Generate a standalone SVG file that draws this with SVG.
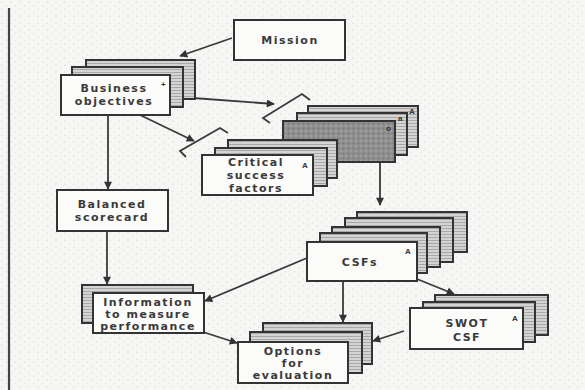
<svg xmlns="http://www.w3.org/2000/svg" width="585" height="390" viewBox="0 0 585 390">
<defs>
<pattern id="dots" width="9" height="7" patternUnits="userSpaceOnUse">
<rect width="9" height="7" fill="#f6f6f4"/>
<circle cx="2" cy="2" r="0.6" fill="#c4c4c4"/>
<circle cx="6.5" cy="5.5" r="0.5" fill="#d2d2d2"/>
</pattern>
<pattern id="hatch" width="4" height="3" patternUnits="userSpaceOnUse">
<rect width="4" height="3" fill="#d4d4d4"/>
<rect width="4" height="1" fill="#a8a8a8"/>
</pattern>
<pattern id="dark" width="5" height="5" patternUnits="userSpaceOnUse">
<rect width="5" height="5" fill="#8e8e8e"/>
<circle cx="1" cy="1" r="0.8" fill="#b8b8b8"/>
<circle cx="3.5" cy="3.5" r="0.7" fill="#6e6e6e"/>
</pattern>
<marker id="ah" viewBox="0 0 10 10" refX="9" refY="5" markerWidth="9" markerHeight="8" markerUnits="userSpaceOnUse" orient="auto">
<path d="M0,0 L10,5 L0,10 z" fill="#333"/>
</marker>
<style>
.f{fill:#fbfbfa;stroke:#333;stroke-width:2}
.b{fill:url(#hatch);stroke:#333;stroke-width:2}
.d{fill:url(#dark);stroke:#333;stroke-width:2}
.t{font-family:"DejaVu Sans","Liberation Sans",sans-serif;font-weight:bold;font-size:11px;letter-spacing:1.5px;fill:#3a3a3a;text-anchor:middle}
.m{font-family:"Liberation Sans",sans-serif;font-weight:bold;font-size:8px;fill:#333}
.c{fill:none;stroke:#3a3a3a;stroke-width:1.8}
</style>
</defs>
<rect width="585" height="390" fill="url(#dots)"/>
<line x1="9" y1="8" x2="9" y2="390" stroke="#444" stroke-width="2.2"/>

<g id="connectors">
<line class="c" x1="232" y1="38" x2="180" y2="56" marker-end="url(#ah)"/>
<line class="c" x1="193" y1="98" x2="274" y2="104" marker-end="url(#ah)"/>
<line class="c" x1="140" y1="115" x2="194" y2="141" marker-end="url(#ah)"/>
<polyline class="c" points="270,123 263,118 302,94 310,100"/>
<polyline class="c" points="186,157 180,151 220,128 228,133"/>
<line class="c" x1="108" y1="115" x2="108" y2="189" marker-end="url(#ah)"/>
<line class="c" x1="107" y1="231" x2="107" y2="284" marker-end="url(#ah)"/>
<line class="c" x1="380" y1="162" x2="380" y2="205" marker-end="url(#ah)"/>
<line class="c" x1="307" y1="258" x2="205" y2="301" marker-end="url(#ah)"/>
<line class="c" x1="343" y1="281" x2="343" y2="322" marker-end="url(#ah)"/>
<line class="c" x1="417" y1="279" x2="454" y2="294" marker-end="url(#ah)"/>
<line class="c" x1="404" y1="331" x2="373" y2="341" marker-end="url(#ah)"/>
<line class="c" x1="203" y1="332" x2="237" y2="343" marker-end="url(#ah)"/>
</g>

<g id="mission">
<rect class="f" x="234" y="20" width="111" height="40"/>
<text class="t" x="290" y="44">Mission</text>
</g>

<g id="business-objectives">
<rect class="b" x="86" y="60" width="109" height="39"/>
<rect class="b" x="72" y="67" width="111" height="40"/>
<rect class="f" x="61" y="75" width="109" height="40"/>
<text class="m" x="161" y="87">+</text>
<text class="t" x="114" y="92">Business</text>
<text class="t" x="114" y="105">objectives</text>
</g>

<g id="csf-stack-dark">
<rect class="b" x="308" y="106" width="110" height="41"/>
<rect class="b" x="297" y="113" width="110" height="42"/>
<rect class="d" x="283" y="121" width="112" height="41"/>
<text class="m" x="409" y="114">A</text>
<text class="m" x="398" y="121">a</text>
<text class="m" x="386" y="131">o</text>
</g>

<g id="critical-success-factors">
<rect class="b" x="228" y="140" width="109" height="38"/>
<rect class="b" x="215" y="148" width="112" height="38"/>
<rect class="f" x="202" y="155" width="111" height="40"/>
<text class="m" x="302" y="168">A</text>
<text class="t" x="256" y="166">Critical</text>
<text class="t" x="256" y="179">success</text>
<text class="t" x="256" y="192">factors</text>
</g>

<g id="balanced-scorecard">
<rect class="f" x="57" y="190" width="111" height="41"/>
<text class="t" x="112" y="208">Balanced</text>
<text class="t" x="112" y="221">scorecard</text>
</g>

<g id="csfs">
<rect class="b" x="357" y="212" width="110" height="40"/>
<rect class="b" x="345" y="218" width="108" height="44"/>
<rect class="b" x="332" y="227" width="108" height="40"/>
<rect class="b" x="320" y="233" width="107" height="40"/>
<rect class="f" x="307" y="242" width="110" height="39"/>
<text class="m" x="405" y="254">A</text>
<text class="t" x="360" y="266">CSFs</text>
</g>

<g id="swot-csf">
<rect class="b" x="435" y="295" width="113" height="40"/>
<rect class="b" x="423" y="302" width="112" height="40"/>
<rect class="f" x="410" y="308" width="113" height="41"/>
<text class="m" x="512" y="321">A</text>
<text class="t" x="467" y="327">SWOT</text>
<text class="t" x="467" y="341">CSF</text>
</g>

<g id="information">
<rect class="b" x="82" y="285" width="111" height="38"/>
<rect class="f" x="93" y="293" width="111" height="40"/>
<text class="t" x="148" y="306">Information</text>
<text class="t" x="148" y="318">to measure</text>
<text class="t" x="148" y="330">performance</text>
</g>

<g id="options">
<rect class="b" x="263" y="323" width="109" height="41"/>
<rect class="b" x="250" y="332" width="112" height="41"/>
<rect class="f" x="238" y="342" width="110" height="41"/>
<text class="t" x="293" y="355">Options</text>
<text class="t" x="293" y="367">for</text>
<text class="t" x="293" y="379">evaluation</text>
</g>
</svg>
